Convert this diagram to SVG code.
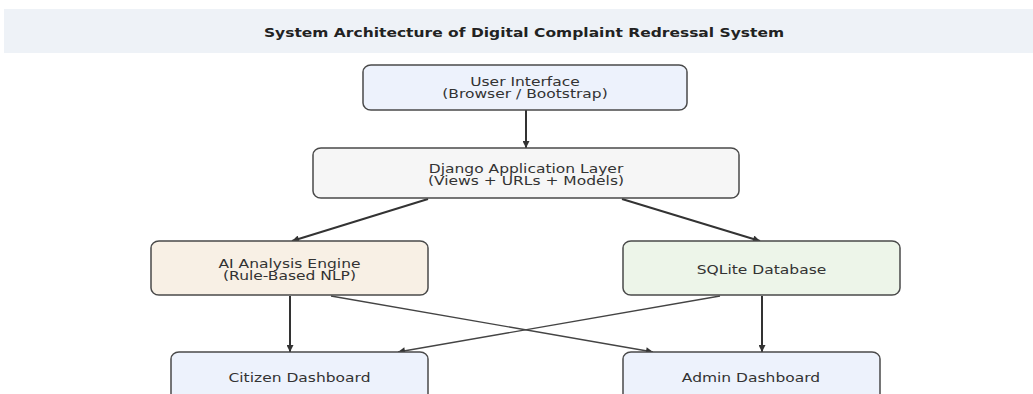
<svg xmlns="http://www.w3.org/2000/svg" width="1033" height="394" viewBox="0 0 1033 394">
  <style>
    .box { stroke: #4a4a4a; stroke-width: 1.5; }
    .lbl { font-family: "DejaVu Sans", "Liberation Sans", sans-serif; font-size: 12.5px; fill: #333; text-anchor: middle; }
    .title { font-weight: bold; fill: #222; }
    .main { stroke: #333; stroke-width: 2; fill: none; }
    .cross { stroke: #444; stroke-width: 1.3; fill: none; }
  </style>
  <defs>
    <marker id="head" viewBox="0 0 10 10" refX="10" refY="5" markerWidth="9" markerHeight="7" markerUnits="userSpaceOnUse" orient="auto">
      <path d="M0,0 L10,5 L0,10 z" fill="#333"/>
    </marker>
  </defs>

  <rect width="1033" height="394" fill="#ffffff"/>

  <!-- title band -->
  <g id="title">
    <rect x="4" y="9" width="1029" height="44" fill="#eef2f7"/>
    <text class="lbl title" transform="translate(524,37) scale(1.24,1)">System Architecture of Digital Complaint Redressal System</text>
  </g>

  <!-- connectors -->
  <g id="connectors">
    <line class="main" x1="526" y1="110" x2="526" y2="148" marker-end="url(#head)"/>
    <line class="main" x1="428" y1="199" x2="292" y2="241" marker-end="url(#head)"/>
    <line class="main" x1="622" y1="199" x2="760" y2="241" marker-end="url(#head)"/>
    <line class="main" x1="290" y1="296" x2="290" y2="352" marker-end="url(#head)"/>
    <line class="main" x1="762" y1="296" x2="762" y2="352" marker-end="url(#head)"/>
    <line class="cross" x1="331" y1="296" x2="653" y2="352" marker-end="url(#head)"/>
    <line class="cross" x1="720" y1="296" x2="398" y2="352" marker-end="url(#head)"/>
  </g>

  <g id="user-interface">
    <rect class="box" x="363" y="65" width="324" height="45" rx="8" ry="7" fill="#edf2fc"/>
    <text class="lbl" transform="translate(525,85.5) scale(1.24,1)">User Interface</text>
    <text class="lbl" transform="translate(525,98) scale(1.24,1)">(Browser / Bootstrap)</text>
  </g>

  <g id="django-app">
    <rect class="box" x="313" y="148" width="426" height="50" rx="8" ry="7" fill="#f6f6f6"/>
    <text class="lbl" transform="translate(526,172.5) scale(1.24,1)">Django Application Layer</text>
    <text class="lbl" transform="translate(526,185) scale(1.24,1)">(Views + URLs + Models)</text>
  </g>

  <g id="ai-engine">
    <rect class="box" x="151" y="241" width="277" height="54" rx="8" ry="7" fill="#f8f0e5"/>
    <text class="lbl" transform="translate(289.5,267.5) scale(1.24,1)">AI Analysis Engine</text>
    <text class="lbl" transform="translate(289.5,280) scale(1.24,1)">(Rule-Based NLP)</text>
  </g>

  <g id="sqlite-db">
    <rect class="box" x="623" y="241" width="277" height="54" rx="8" ry="7" fill="#edf5e9"/>
    <text class="lbl" transform="translate(761.5,273.5) scale(1.24,1)">SQLite Database</text>
  </g>

  <g id="citizen-dashboard">
    <rect class="box" x="171" y="352" width="257" height="60" rx="8" ry="7" fill="#edf2fc"/>
    <text class="lbl" transform="translate(299.5,381.5) scale(1.24,1)">Citizen Dashboard</text>
  </g>

  <g id="admin-dashboard">
    <rect class="box" x="623" y="352" width="257" height="60" rx="8" ry="7" fill="#edf2fc"/>
    <text class="lbl" transform="translate(751,381.5) scale(1.24,1)">Admin Dashboard</text>
  </g>
</svg>
